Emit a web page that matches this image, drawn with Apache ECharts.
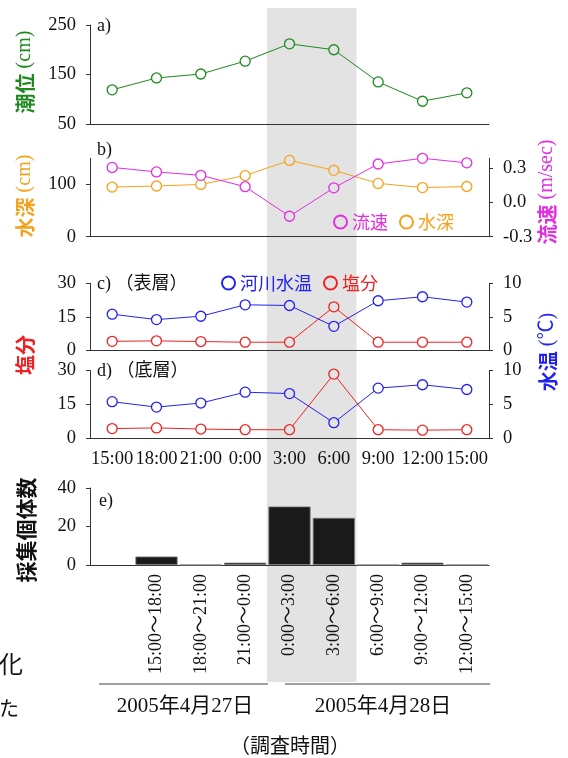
<!DOCTYPE html>
<html>
<head>
<meta charset="utf-8">
<script src="https://cdn.jsdelivr.net/npm/echarts@6/dist/echarts.min.js"></script>
<style>html,body{margin:0;padding:0;background:#fff;}#c{width:568px;height:758px;}</style>
</head>
<body>
<div id="c"></div>
<script>
// ---- data ----
const hours = ['15:00','18:00','21:00','0:00','3:00','6:00','9:00','12:00','15:00'];
const tide = [119, 143, 151, 177, 212, 200, 135, 96, 113];
const depth = [95, 97, 100, 117, 146, 127, 102, 94, 96];
const velocity = [0.31, 0.27, 0.24, 0.14, -0.12, 0.13, 0.34, 0.39, 0.35];
const tempSurface = [5.4, 4.6, 5.1, 6.8, 6.7, 3.6, 7.4, 8.0, 7.2];
const saltSurface = [4.1, 4.3, 4.0, 3.7, 3.7, 19.5, 3.7, 3.7, 3.7];
const tempBottom = [5.4, 4.6, 5.2, 6.8, 6.6, 2.3, 7.4, 7.9, 7.2];
const saltBottom = [4.3, 4.6, 4.1, 3.8, 3.8, 28.4, 3.8, 3.6, 3.8];
const periods = ['', '15:00〜18:00', '18:00〜21:00', '21:00〜0:00', '0:00〜3:00', '3:00〜6:00', '6:00〜9:00', '9:00〜12:00', '12:00〜15:00'];
const catchCount = [null, 4.4, 0, 1.2, 30.4, 24.5, 0, 1.2, 0];
const shadeSlots = [0, 0, 0, 0, 1, 1, 0, 0, 0];
const depthTicks = [0, 100];
const velocityTicks = [-0.3, 0, 0.3];

// ---- styles ----
const SERIF = "'Liberation Serif', 'Noto Sans CJK JP', serif";
const CJK = "'Noto Sans CJK JP', sans-serif";
const AX = '#333';
const BAND = '#e3e3e3';
const GREEN = '#1e8a1e', ORANGE = '#f5a21a', MAGENTA = '#e22de2', BLUE = '#2222ee', RED = '#ee2222';
const TICK_FS = 18.5;

const L = 90, R = 79;
const grids = [
  {left: L, right: R, top: 25, height: 99},
  {left: L, right: R, top: 158.3, height: 78.4},
  {left: L, right: R, top: 283.3, height: 67.2},
  {left: L, right: R, top: 370.5, height: 67.8},
  {left: L, right: R, top: 488, height: 77},
  {left: L, right: R, top: 8, height: 674}
];

function xCat(gi, showLabel) {
  return {
    type: 'category', gridIndex: gi, data: hours, boundaryGap: true,
    axisLine: {lineStyle: {color: AX, width: 1}},
    axisTick: {length: 4, lineStyle: {color: AX}},
    axisLabel: {show: showLabel, interval: 0, fontFamily: SERIF, fontSize: TICK_FS, color: '#111', margin: 12}
  };
}
function yVal(gi, pos, min, max, extra) {
  const o = {
    type: 'value', gridIndex: gi, position: pos, min: min, max: max,
    axisLine: {show: true, lineStyle: {color: AX, width: 1}},
    axisTick: {show: true, length: 4, lineStyle: {color: AX}},
    axisLabel: {fontFamily: SERIF, fontSize: TICK_FS, color: '#111', margin: 14},
    splitLine: {show: false}
  };
  if (extra) {
    if (extra.interval !== undefined) o.interval = extra.interval;
    if (extra.ticks) { o.axisTick.customValues = extra.ticks; o.axisLabel.customValues = extra.ticks; }
    if (extra.formatter) o.axisLabel.formatter = extra.formatter;
  }
  return o;
}
function lineSeries(name, values, color, xi, yi) {
  return {
    type: 'line', name: name, xAxisIndex: xi, yAxisIndex: yi,
    data: values.map((v, i) => ({value: v, itemStyle: {color: shadeSlots[i] ? BAND : '#fff'}})),
    symbol: 'circle', symbolSize: 10,
    lineStyle: {color: color, width: 1},
    itemStyle: {color: '#fff', borderColor: color, borderWidth: 1.3},
    emphasis: {disabled: true}, z: 3
  };
}
function legendItem(name, color) {
  return {name: name, icon: 'circle', itemStyle: {color: 'rgba(0,0,0,0)', borderColor: color, borderWidth: 2},
          textStyle: {color: color}};
}
function vTitle(cjk, unit, x, y, color, size) {
  return {type: 'text', x: x, y: y, rotation: Math.PI / 2,
          style: {text: '{c|' + cjk + '}' + (unit ? '{s| ' + unit + '}' : ''), fill: color, align: 'center', verticalAlign: 'middle',
                  rich: {c: {fontFamily: CJK, fontWeight: 'bold', fontSize: size, fill: color},
                         s: {fontFamily: SERIF, fontSize: size, fill: color}}}};
}
function hText(text, x, y, size, align, family) {
  return {type: 'text', x: x, y: y,
          style: {text: text, fill: '#111', font: size + 'px ' + (family || SERIF), align: align || 'left', verticalAlign: 'middle'}};
}

const chart = echarts.init(document.getElementById('c'), null, {renderer: 'canvas'});
chart.setOption({
  animation: false,
  backgroundColor: '#fff',
  grid: grids,
  xAxis: [
    xCat(0, false), xCat(1, false), xCat(2, false), xCat(3, true),
    {
      type: 'category', gridIndex: 4, data: periods, boundaryGap: true,
      axisLine: {lineStyle: {color: AX, width: 1}},
      axisTick: {length: 5, lineStyle: {color: AX}},
      axisLabel: {interval: 0, rotate: 90, fontFamily: SERIF, fontSize: 18, color: '#111', margin: 9}
    },
    {type: 'category', gridIndex: 5, data: hours, boundaryGap: true, show: false}
  ],
  yAxis: [
    yVal(0, 'left', 50, 250, {interval: 100}),
    yVal(1, 'left', 0, 150, {ticks: depthTicks}),
    yVal(1, 'right', -0.3, 0.39, {ticks: velocityTicks, formatter: v => v.toFixed(1)}),
    yVal(2, 'left', 0, 30, {interval: 15}),
    yVal(2, 'right', 0, 10, {interval: 5}),
    yVal(3, 'left', 0, 30, {interval: 15}),
    yVal(3, 'right', 0, 10, {interval: 5}),
    yVal(4, 'left', 0, 40, {interval: 20}),
    {type: 'value', gridIndex: 5, min: 0, max: 1, show: false}
  ],
  legend: [
    {left: 333, top: 213, padding: 0, itemWidth: 13, itemHeight: 13, itemGap: 11, selectedMode: false,
     textStyle: {fontFamily: CJK, fontSize: 18},
     data: [legendItem('流速', MAGENTA), legendItem('水深', ORANGE)]},
    {left: 221, top: 274, padding: 0, itemWidth: 13, itemHeight: 13, itemGap: 11, selectedMode: false,
     textStyle: {fontFamily: CJK, fontSize: 18},
     data: [legendItem('河川水温', BLUE), legendItem('塩分', RED)]}
  ],
  series: [
    {type: 'custom', name: 'band', xAxisIndex: 5, yAxisIndex: 8, silent: true, z: -5,
     data: shadeSlots.map((v, i) => [i, v]),
     renderItem: function (params, api) {
       if (!api.value(1)) return null;
       const top = api.coord([api.value(0), 1]);
       const bot = api.coord([api.value(0), 0]);
       const w = api.size([1, 0])[0];
       return {type: 'rect', shape: {x: top[0] - w / 2 - 0.5, y: top[1], width: w + 1, height: bot[1] - top[1]},
               style: {fill: BAND}};
     }},
    lineSeries('潮位', tide, GREEN, 0, 0),
    lineSeries('水深', depth, ORANGE, 1, 1),
    lineSeries('流速', velocity, MAGENTA, 1, 2),
    lineSeries('塩分', saltSurface, RED, 2, 3),
    lineSeries('河川水温', tempSurface, BLUE, 2, 4),
    lineSeries('塩分', saltBottom, RED, 3, 5),
    lineSeries('河川水温', tempBottom, BLUE, 3, 6),
    {type: 'bar', name: '採集個体数', xAxisIndex: 4, yAxisIndex: 7, data: catchCount, barCategoryGap: '5%',
     itemStyle: {color: '#1a1a1a', borderColor: '#777', borderWidth: 0.8}, z: 3}
  ],
  graphic: [
    vTitle('潮位', '(cm)', 25, 72, GREEN, 20),
    vTitle('水深', '(cm)', 25, 196, ORANGE, 20),
    vTitle('流速', '(m/sec)', 547, 192, MAGENTA, 20),
    vTitle('塩分', '', 25, 355, RED, 20),
    vTitle('水温', '(℃)', 548, 352, BLUE, 20),
    vTitle('採集個体数', '', 26, 530, '#111', 21),
    hText('a)', 97, 26, 18),
    hText('b)', 97, 150, 18),
    hText('c) （表層）', 97, 284, 18),
    hText('d) （底層）', 97, 371, 18),
    hText('e)', 99, 501, 18),
    hText('2005年4月27日', 185, 706, 21, 'center'),
    hText('2005年4月28日', 383, 706, 21, 'center'),
    hText('（調査時間）', 290, 745, 20, 'center', CJK),
    hText('化', -1, 664, 24, 'left', CJK),
    hText('た', -1, 708, 20, 'left', CJK),
    {type: 'line', shape: {x1: 99, y1: 684, x2: 268, y2: 684}, style: {stroke: '#444', lineWidth: 1.2}},
    {type: 'line', shape: {x1: 285, y1: 684, x2: 490, y2: 684}, style: {stroke: '#444', lineWidth: 1.2}}
  ]
});
</script>
</body>
</html>
